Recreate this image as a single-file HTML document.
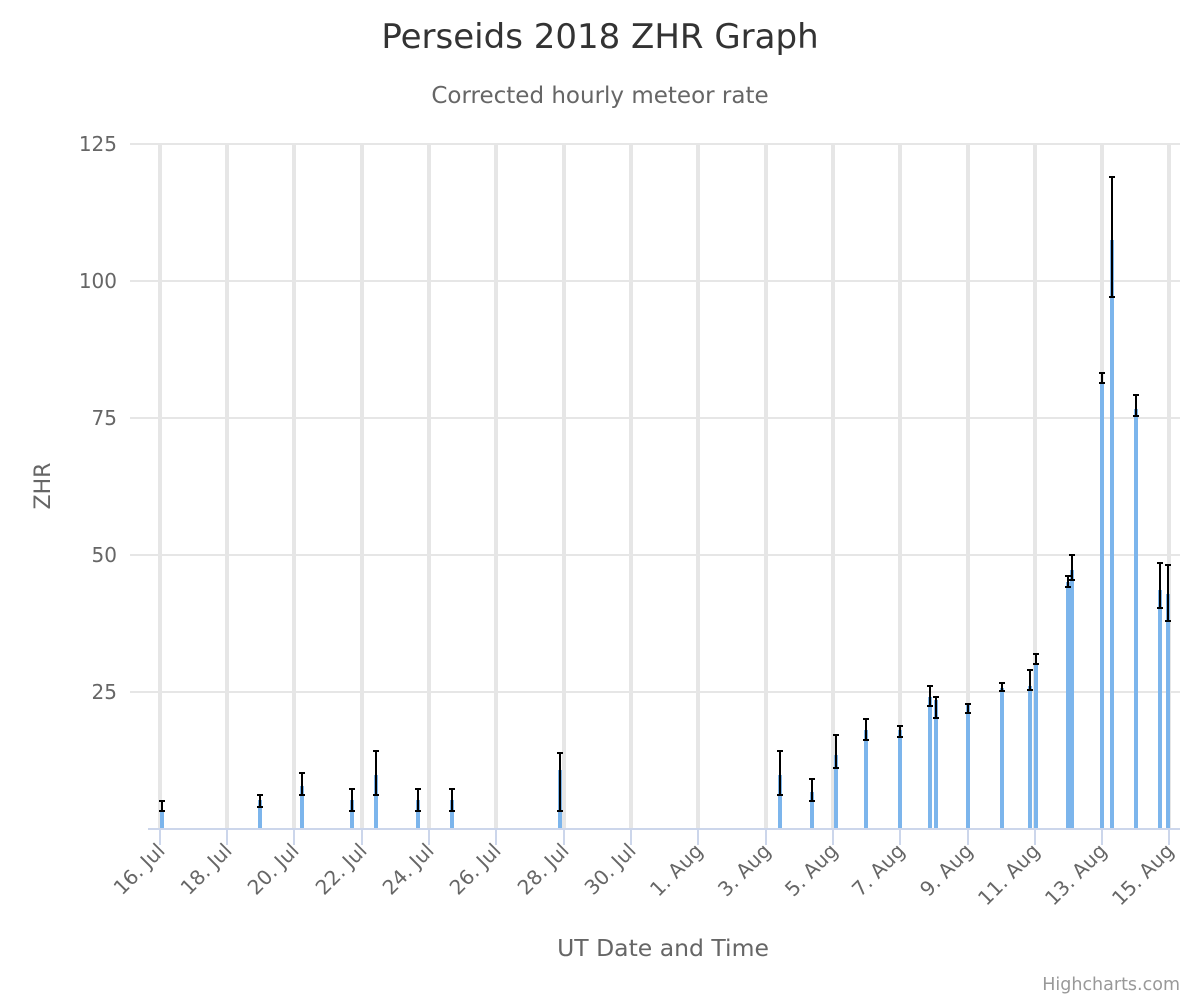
<!DOCTYPE html>
<html><head><meta charset="utf-8"><style>
body{margin:0;background:#fff}
svg{display:block;font-family:"DejaVu Sans","Liberation Sans",sans-serif}
</style></head><body>
<svg width="1200" height="1000" viewBox="0 0 1200 1000" xmlns="http://www.w3.org/2000/svg">
<rect width="1200" height="1000" fill="#fff"/>
<text x="600" y="48" text-anchor="middle" font-size="34" fill="#333">Perseids 2018 ZHR Graph</text>
<text x="600" y="103" text-anchor="middle" font-size="23" fill="#666">Corrected hourly meteor rate</text>
<g stroke="#e6e6e6" stroke-width="2">
<line x1="130" y1="144" x2="1180" y2="144"/>
<line x1="130" y1="281" x2="1180" y2="281"/>
<line x1="130" y1="418" x2="1180" y2="418"/>
<line x1="130" y1="555" x2="1180" y2="555"/>
<line x1="130" y1="692" x2="1180" y2="692"/>
</g>
<g stroke="#e6e6e6" stroke-width="4">
<line x1="160" y1="143" x2="160" y2="829"/><line x1="227" y1="143" x2="227" y2="829"/>
<line x1="294" y1="143" x2="294" y2="829"/><line x1="362" y1="143" x2="362" y2="829"/>
<line x1="429" y1="143" x2="429" y2="829"/><line x1="496" y1="143" x2="496" y2="829"/>
<line x1="564" y1="143" x2="564" y2="829"/><line x1="631" y1="143" x2="631" y2="829"/>
<line x1="698" y1="143" x2="698" y2="829"/><line x1="766" y1="143" x2="766" y2="829"/>
<line x1="833" y1="143" x2="833" y2="829"/><line x1="900" y1="143" x2="900" y2="829"/>
<line x1="968" y1="143" x2="968" y2="829"/><line x1="1035" y1="143" x2="1035" y2="829"/>
<line x1="1102" y1="143" x2="1102" y2="829"/><line x1="1169" y1="143" x2="1169" y2="829"/>
</g>
<g font-size="20" fill="#666" text-anchor="end">
<text x="117" y="151">125</text><text x="117" y="288">100</text><text x="117" y="425">75</text>
<text x="117" y="562">50</text><text x="117" y="699">25</text>
</g>
<text transform="translate(50,486) rotate(-90)" text-anchor="middle" font-size="22" fill="#666">ZHR</text>
<g fill="#7cb5ec" id="bars"></g>
<g stroke="#000" stroke-width="2" id="errs"></g>
<line x1="148" y1="829" x2="1180" y2="829" stroke="#ccd6eb" stroke-width="2"/>
<g stroke="#ccd6eb" stroke-width="2" id="ticks"></g>
<g font-size="20" fill="#666" text-anchor="end" id="xl"></g>
<text x="663" y="956" text-anchor="middle" font-size="23.5" fill="#666">UT Date and Time</text>
<text x="1180" y="990" text-anchor="end" font-size="17.5" fill="#999">Highcharts.com</text>
<script>
var ns="http://www.w3.org/2000/svg";
function el(p,t,a,tx){var e=document.createElementNS(ns,t);for(var k in a)e.setAttribute(k,a[k]);if(tx)e.textContent=tx;document.getElementById(p).appendChild(e);}
var d=[[162,810,801,811],[260,800,795,807],[302,786,773,795],[352,800,789,811],[376,775,751,795],[418,800,789,811],[452,800,789,811],[560,770,753,811],[780,775,751,795],[812,792,779,801],[836,755,735,768],[866,730,719,740],[900,730,726,737],[930,697,686,706],[936,700,697,718],[968,705,704,713],[1002,688,683,691],[1030,686,670,690],[1036,664,654,664],[1068,582,576,587],[1072,570,555,580],[1102,384,373,383],[1112,240,177,297],[1136,409,395,416],[1160,590,563,608],[1168,594,565,621]];
d.forEach(function(b){el("bars","rect",{x:b[0]-2,y:b[1],width:4,height:829-b[1]});
el("errs","line",{x1:b[0],y1:b[2],x2:b[0],y2:b[3]});
el("errs","line",{x1:b[0]-3,y1:b[2],x2:b[0]+3,y2:b[2]});
el("errs","line",{x1:b[0]-3,y1:b[3],x2:b[0]+3,y2:b[3]});});
var xs=[160,227,294,362,429,496,564,631,698,766,833,900,968,1035,1102,1169];
var ls=["16. Jul","18. Jul","20. Jul","22. Jul","24. Jul","26. Jul","28. Jul","30. Jul","1. Aug","3. Aug","5. Aug","7. Aug","9. Aug","11. Aug","13. Aug","15. Aug"];
xs.forEach(function(x,i){el("ticks","line",{x1:x,y1:829,x2:x,y2:845});
el("xl","text",{transform:"translate("+(x+6)+",852) rotate(-45)"},ls[i]);});
</script>
</svg>
</body></html>
